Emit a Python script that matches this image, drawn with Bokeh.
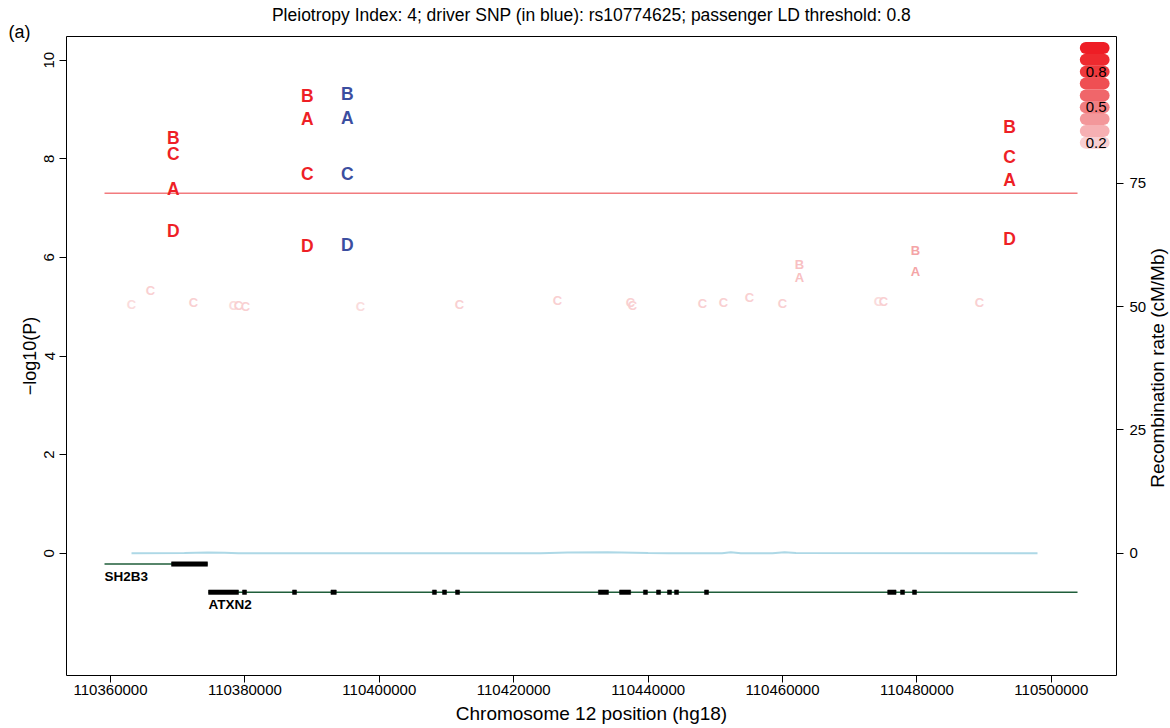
import math
from bokeh.plotting import figure
from bokeh.models import Range1d, LinearAxis, FixedTicker, ColumnDataSource, Title, Label
from bokeh.core.properties import value
from bokeh.embed import file_html
from bokeh.resources import INLINE

FONT = "Liberation Sans"

# ---------------- data ----------------
title_text = "Pleiotropy Index: 4; driver SNP (in blue): rs10774625; passenger LD threshold: 0.8"
panel_tag = "(a)"
x_label = "Chromosome 12 position (hg18)"
y_label = "\u2212log10(P)"
y2_label = "Recombination rate (cM/Mb)"

x_ticks = [110360000, 110380000, 110400000, 110420000, 110440000, 110460000, 110480000, 110500000]
x_tick_labels = ["110360000", "110380000", "110400000", "110420000", "110440000",
                 "110460000", "110480000", "110500000"]
y_ticks = [0, 2, 4, 6, 8, 10]
y_tick_labels = ["0", "2", "4", "6", "8", "10"]
y2_ticks = [0, 25, 50, 75]
y2_tick_labels = ["0", "25", "50", "75"]

gw_threshold = 7.3

# lead SNPs: one letter per trait (A-D)
traits = ["A", "B", "C", "D"]
lead_pos = [110369330, 110389271, 110395223, 110493780]
lead_is_driver = [False, False, True, False]
lead_logp_A = [7.39, 8.80, 8.82, 7.56]
lead_logp_B = [8.43, 9.27, 9.31, 8.64]
lead_logp_C = [8.10, 7.70, 7.70, 8.03]
lead_logp_D = [6.54, 6.23, 6.26, 6.38]

# passenger SNPs (coloured by LD with the driver)
pass_pos = [110363125, 110365952, 110372351, 110378304, 110379048, 110380089, 110397202,
            110411935, 110426518, 110437381, 110437679, 110448095, 110451220, 110455089,
            110460000, 110462530, 110462530, 110474286, 110475030, 110479792, 110479792,
            110489315]
pass_trait = ["C", "C", "C", "C", "C", "C", "C",
              "C", "C", "C", "C", "C", "C", "C",
              "C", "B", "A", "C", "C", "B", "A",
              "C"]
pass_logp = [5.04, 5.33, 5.08, 5.02, 5.02, 5.00, 5.00,
             5.04, 5.12, 5.08, 5.02, 5.06, 5.08, 5.18,
             5.06, 5.85, 5.59, 5.10, 5.10, 6.14, 5.71,
             5.08]
pass_ld = [0.15, 0.2, 0.2, 0.15, 0.2, 0.2, 0.15,
           0.2, 0.2, 0.2, 0.2, 0.2, 0.2, 0.2,
           0.2, 0.25, 0.25, 0.15, 0.2, 0.35, 0.35,
           0.2]

# recombination rate (cM/Mb)
recomb_pos = [110363125, 110371000, 110374500, 110377000, 110379000, 110424000, 110428000,
              110434000, 110440000, 110443000, 110451000, 110452300, 110453800, 110458500,
              110460300, 110462000, 110497946]
recomb_rate = [0.0, 0.03, 0.15, 0.12, 0.0, 0.0, 0.15,
               0.18, 0.05, 0.0, 0.0, 0.22, 0.0, 0.0,
               0.22, 0.03, 0.0]

# genes
gene_names = ["SH2B3", "ATXN2"]
gene_start = [110359107, 110374583]
gene_end = [110374435, 110503899]
gene_row = [0, 1]
exon_gene = [0] + [1] * 17
exon_start = [110369077,
              110374583, 110379640, 110387080, 110392800, 110407900, 110409400, 110411340,
              110432600, 110435750, 110439300, 110441250, 110442880, 110443930, 110448390,
              110475650, 110477560, 110479340]
exon_end = [110374435,
            110379048, 110380240, 110387680, 110393600, 110408500, 110410000, 110411940,
            110434100, 110437400, 110439900, 110441850, 110443480, 110444530, 110448990,
            110476900, 110478160, 110479940]

# LD colour key
legend_ld = [0.2, 0.3, 0.4, 0.5, 0.6, 0.7, 0.8, 0.9, 1.0]
legend_labels = {0.2: "0.2", 0.5: "0.5", 0.8: "0.8"}

# ---------------- styles ----------------
legend_colors = ["#F9CFD1", "#F6B0B3", "#F3979A", "#F17E81", "#F0666A",
                 "#EF4F53", "#EE393D", "#EE2A2F", "#EE1D25"]
RED = "#EE1F26"
BLUE = "#3B4EA0"


def hex2rgb(h):
    return tuple(int(h[i:i + 2], 16) for i in (1, 3, 5))


def rgb2hex(c):
    return "#%02X%02X%02X" % tuple(int(round(v)) for v in c)


def ld_color(ld):
    if ld <= legend_ld[0]:
        t = max(ld, 0) / legend_ld[0]
        c0 = hex2rgb(legend_colors[0])
        return rgb2hex([255 + (c - 255) * t for c in c0])
    for i in range(len(legend_ld) - 1):
        if legend_ld[i] <= ld <= legend_ld[i + 1]:
            t = (ld - legend_ld[i]) / (legend_ld[i + 1] - legend_ld[i])
            a, b = hex2rgb(legend_colors[i]), hex2rgb(legend_colors[i + 1])
            return rgb2hex([x + (y - x) * t for x, y in zip(a, b)])
    return legend_colors[-1]


X0, X1 = 110353450, 110509700
Y0, Y1 = -2.48, 10.48
FRAME_W, FRAME_H = 1050, 639

p = figure(width=1170, height=728, title=None,
           x_range=Range1d(X0, X1), y_range=Range1d(Y0, Y1),
           output_backend="svg", toolbar_location=None,
           min_border_left=66, min_border_right=54, min_border_top=36, min_border_bottom=53)
p.extra_y_ranges = {"recomb": Range1d(Y0 * 10, Y1 * 10)}
p.xgrid.visible = False
p.ygrid.visible = False
p.outline_line_color = "black"
p.outline_line_width = 1
p.background_fill_color = "white"
p.border_fill_color = "white"

# panel tag (inner) and main title (outer)
p.add_layout(Title(text=panel_tag, align="left", offset=-58, standoff=-10,
                   text_font=FONT, text_font_size="18px", text_font_style="normal",
                   text_color="black"), "above")
p.add_layout(Title(text=title_text, align="center", standoff=0,
                   text_font=FONT, text_font_size="17.5px", text_font_style="normal",
                   text_color="black"), "above")


def style_axis(ax, size="15px"):
    ax.axis_line_color = None
    ax.major_tick_line_color = "black"
    ax.major_tick_in = 0
    ax.major_tick_out = 7
    ax.minor_tick_line_color = None
    ax.major_label_text_font = FONT
    ax.major_label_text_font_size = size
    ax.major_label_text_color = "black"
    ax.axis_label_text_font = FONT
    ax.axis_label_text_font_style = "normal"
    ax.axis_label_text_color = "black"


xa = p.xaxis[0]
style_axis(xa)
xa.ticker = FixedTicker(ticks=x_ticks)
xa.major_label_overrides = {t: s for t, s in zip(x_ticks, x_tick_labels)}
xa.axis_label = x_label
xa.axis_label_text_font_size = "19px"
xa.major_label_standoff = 2
xa.axis_label_standoff = 5

ya = p.yaxis[0]
style_axis(ya)
ya.ticker = FixedTicker(ticks=y_ticks)
ya.major_label_orientation = "vertical"
ya.major_label_overrides = {t: s for t, s in zip(y_ticks, y_tick_labels)}
ya.axis_label = y_label
ya.axis_label_text_font_size = "18px"
ya.major_label_standoff = 5
ya.axis_label_standoff = 2

# right axis: recombination rate
ra = LinearAxis(y_range_name="recomb")
style_axis(ra, "15px")
ra.ticker = FixedTicker(ticks=y2_ticks)
ra.major_label_overrides = {t: s for t, s in zip(y2_ticks, y2_tick_labels)}
ra.major_label_standoff = 6
p.add_layout(ra, "right")

# right axis title, reading bottom-to-top, in the right side panel
p.add_layout(Label(x=8, y=FRAME_H / 2 - 12, x_units="screen", y_units="screen",
                   text=y2_label, angle=math.pi / 2,
                   text_font=FONT, text_font_size="19px", text_color="black",
                   text_align="center", text_baseline="middle"), "right")

# recombination line
p.line(recomb_pos, recomb_rate, y_range_name="recomb", line_color="#ADD8E6", line_width=2)

# genome-wide threshold
span_lo, span_hi = min(gene_start), max(gene_end)
p.line([span_lo, span_hi], [gw_threshold, gw_threshold], line_color="#F27B7E", line_width=1.5)

# gene track
ROW_Y0, ROW_STEP = -0.22, 0.57
gene_y = [ROW_Y0 - ROW_STEP * r for r in gene_row]
p.segment(x0=gene_start, y0=gene_y, x1=gene_end, y1=gene_y, line_color="#1F5E3A", line_width=1.5)
ex_y = [gene_y[g] for g in exon_gene]
p.quad(left=exon_start, right=exon_end,
       bottom=[y - 0.045 for y in ex_y], top=[y + 0.045 for y in ex_y],
       fill_color="black", line_color="black", line_width=0.5)
p.text(x=gene_start, y=[y - 0.25 for y in gene_y], text=gene_names,
       text_font=value(FONT), text_font_style="bold", text_font_size="13.5px",
       text_color="black", text_align="left", text_baseline="middle")

# passenger SNP letters
psrc = ColumnDataSource(dict(x=pass_pos, y=pass_logp, t=pass_trait,
                             c=[ld_color(l) for l in pass_ld]))
p.text(x="x", y="y", text="t", source=psrc, text_color="c",
       text_font=value(FONT), text_font_style="bold", text_font_size="13px",
       text_align="center", text_baseline="middle")

# lead SNP letters
lx, ly, lt, lc = [], [], [], []
for i, pos in enumerate(lead_pos):
    for tr, vals in zip(traits, [lead_logp_A, lead_logp_B, lead_logp_C, lead_logp_D]):
        lx.append(pos)
        ly.append(vals[i])
        lt.append(tr)
        lc.append(BLUE if lead_is_driver[i] else RED)
lsrc = ColumnDataSource(dict(x=lx, y=ly, t=lt, c=lc))
p.text(x="x", y="y", text="t", source=lsrc, text_color="c",
       text_font=value(FONT), text_font_style="bold", text_font_size="17.5px",
       text_align="center", text_baseline="middle")

# LD colour key (top right, inside the frame)
xpp = (X1 - X0) / FRAME_W
ypp = (Y1 - Y0) / FRAME_H
key_cx = X1 - 21.8 * xpp
key_half = 8.9 * xpp
key_y = [Y1 - (11.5 + 11.85 * (1.0 - l) / 0.1) * ypp for l in legend_ld]
p.segment(x0=[key_cx - key_half] * len(legend_ld), y0=key_y,
          x1=[key_cx + key_half] * len(legend_ld), y1=key_y,
          line_color=legend_colors, line_width=12, line_cap="round")
lab_ld = [l for l in legend_ld if l in legend_labels]
p.text(x=[key_cx + 1.5 * xpp] * len(lab_ld),
       y=[key_y[legend_ld.index(l)] for l in lab_ld],
       text=[legend_labels[l] for l in lab_ld],
       text_font=value(FONT), text_font_size="15px", text_color="black",
       text_align="center", text_baseline="middle")

open("out.html", "w").write(file_html(p, INLINE))
